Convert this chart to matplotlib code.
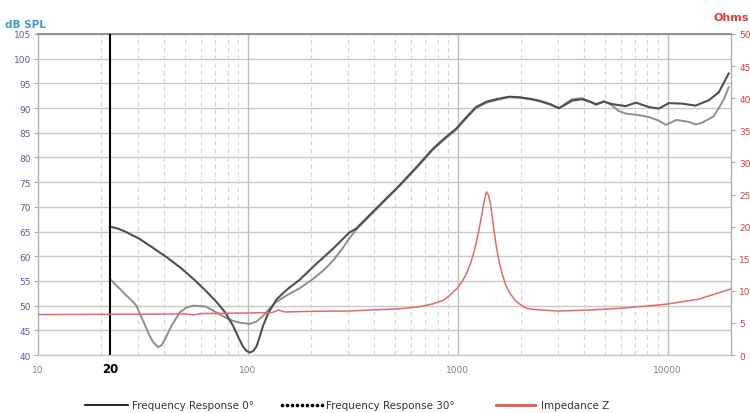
import matplotlib
matplotlib.use("Agg")
import matplotlib.pyplot as plt
from matplotlib.lines import Line2D
import numpy as np

# ---- measured data -------------------------------------------------------
freq_0deg = [22, 24, 26, 28, 30.5, 35, 41, 48, 55, 63, 71, 78, 85, 90, 94.5,
             98, 102, 106, 110, 114, 118, 125, 137, 155, 176, 211, 254, 304,
             328, 400, 526, 640, 758, 870, 980, 1100, 1220, 1370, 1520, 1750,
             1960, 2200, 2440, 2750, 3030, 3250, 3500, 3900, 4300, 4550, 4970,
             5440, 6300, 7050, 8130, 9070, 10100, 11700, 13550, 15700, 17500,
             19500]
spl_0deg = [66.0, 65.6, 65.0, 64.3, 63.5, 61.8, 59.8, 57.6, 55.4, 53.0, 50.7,
            48.6, 45.9, 43.6, 41.8, 40.9, 40.5, 40.8, 41.8, 43.8, 45.9, 48.5,
            51.3, 53.4, 55.2, 58.4, 61.5, 64.8, 65.6, 69.3, 74.3, 78.2, 81.7,
            84.0, 85.8, 88.2, 90.2, 91.3, 91.8, 92.3, 92.2, 91.9, 91.5, 90.8,
            90.0, 90.7, 91.5, 91.8, 91.2, 90.8, 91.3, 90.8, 90.4, 91.1, 90.2,
            89.9, 91.0, 90.9, 90.5, 91.6, 93.2, 97.0]

freq_30deg = [22, 24, 26.4, 28, 29.4, 31, 32.9, 34.2, 35.4, 37.3, 38.8, 40.3,
              43.2, 47.3, 51, 55, 63, 71, 78, 85, 93, 102, 110, 118, 126, 136,
              152, 176, 204, 230, 254, 280, 304, 328, 400, 526, 640, 758, 870,
              980, 1100, 1220, 1370, 1520, 1750, 1960, 2200, 2440, 2750, 3030,
              3250, 3500, 3900, 4300, 4550, 4970, 5440, 5850, 6300, 7200, 8130,
              9000, 9800, 11000, 12600, 13550, 14500, 16500, 17500, 18500,
              19500]
spl_30deg = [55.4, 53.8, 52.0, 51.0, 50.0, 47.8, 45.3, 43.7, 42.6, 41.6, 42.0,
             43.2, 45.9, 48.6, 49.6, 50.0, 49.8, 48.6, 47.6, 46.9, 46.5, 46.3,
             46.8, 47.9, 49.3, 50.7, 52.0, 53.5, 55.4, 57.2, 59.1, 61.4, 63.6,
             65.4, 69.1, 74.2, 78.0, 81.5, 83.8, 85.6, 88.0, 90.0, 91.1, 91.6,
             92.2, 92.1, 91.8, 91.4, 90.7, 89.9, 90.9, 91.8, 92.0, 91.3, 90.6,
             91.4, 90.5, 89.4, 88.9, 88.6, 88.2, 87.5, 86.6, 87.6, 87.2, 86.7,
             87.0, 88.3, 90.0, 91.8, 94.2]

freq_imp = [10, 30, 50, 55, 60, 80, 100, 130, 140, 150, 200, 300, 526, 650,
            758, 850, 908, 1000, 1050, 1100, 1150, 1200, 1250, 1300, 1335,
            1368, 1400, 1435, 1465, 1490, 1530, 1574, 1630, 1694, 1780, 1886,
            2000, 2110, 2300, 2530, 3000, 4200, 6100, 9760, 14050, 20000]
ohm_imp = [6.3, 6.35, 6.4, 6.25, 6.45, 6.5, 6.55, 6.6, 7.0, 6.7, 6.8, 6.85,
           7.2, 7.5, 7.95, 8.5, 9.2, 10.5, 11.5, 12.7, 14.3, 16.3, 18.9, 21.8,
           24.0, 25.4, 24.9, 23.3, 21.0, 19.1, 16.6, 14.5, 12.5, 10.8, 9.5,
           8.4, 7.8, 7.3, 7.1, 7.0, 6.85, 7.0, 7.3, 7.9, 8.7, 10.3]

spl_ticks = list(range(40, 106, 5))
ohm_ticks = list(range(0, 51, 5))
freq_ticks = [10, 100, 1000, 10000]
freq_tick_labels = ["10", "100", "1000", "10000"]
low_limit_freq = 22
low_limit_label = "20"

legend_labels = ["Frequency Response 0°", "Frequency Response 30°", "Impedance Z"]

# ---- styling -------------------------------------------------------------
C_0DEG = "#4f4f4f"
C_30DEG = "#8e8e8e"
C_IMP = "#e36a6a"
C_SPL_TXT = "#5c5c9e"
C_OHM_TXT = "#e23c3c"

fig = plt.figure(figsize=(7.5, 4.14), dpi=100)
ax = fig.add_axes([38 / 750, 1 - 356 / 414, 693 / 750, 321 / 414])

ax.set_xscale("log")
ax.set_xlim(10, 20000)
ax.set_ylim(40, 105)

# grid
for v in spl_ticks:
    ax.axhline(v, color="#c8c8c8", lw=1.0, zorder=1)
minor = [m * d for d in (10, 100, 1000, 10000) for m in range(2, 10) if m * d < 20000]
for v in minor:
    ax.axvline(v, color="#d6d6d6", lw=0.8, ls=(0, (4, 3)), zorder=1)
for v in freq_ticks[1:]:
    ax.axvline(v, color="#bcbcbc", lw=1.0, zorder=1)

ax.set_yticks(spl_ticks)
ax.set_yticklabels([str(v) for v in spl_ticks], color=C_SPL_TXT, fontsize=6.5)
ax.tick_params(axis="y", length=3, color="#aaaaaa", pad=2)
ax.set_xticks(freq_ticks)
ax.set_xticklabels(freq_tick_labels, color="#808080", fontsize=6.5)
ax.set_xticks([], minor=True)
ax.tick_params(axis="x", length=0, pad=7)

for side, col, lw in (("top", "#8a8a8a", 1.3), ("left", "#b0b0b0", 1.0),
                      ("bottom", "#cccccc", 1.0), ("right", "#b0b0b0", 1.0)):
    ax.spines[side].set_color(col)
    ax.spines[side].set_linewidth(lw)

# impedance on secondary axis
ax2 = ax.twinx()
ax2.set_ylim(0, 50)
ax2.set_yticks(ohm_ticks)
ax2.set_yticklabels([str(v) for v in ohm_ticks], color=C_OHM_TXT, fontsize=6.5)
ax2.tick_params(axis="y", length=3, color="#aaaaaa", pad=3)
for s in ax2.spines.values():
    s.set_visible(False)
ax2.plot(freq_imp, ohm_imp, color=C_IMP, lw=1.1, zorder=3)

# SPL curves
ax2.set_zorder(ax.get_zorder() + 1)
ax2.patch.set_visible(False)
ax.plot(freq_30deg, spl_30deg, color=C_30DEG, lw=1.4, zorder=3)
ax.plot(freq_0deg, spl_0deg, color=C_0DEG, lw=1.5, zorder=4)

# lower frequency limit marker
ax.axvline(low_limit_freq, color="black", lw=1.5, zorder=5)
ax.text(low_limit_freq, 40 - 1.4, low_limit_label, ha="center", va="top",
        fontsize=8.5, fontweight="bold", color="black")

# axis titles
fig.text(5 / 750, 1 - 25 / 414, "dB SPL", color="#3a9dc6", fontsize=7.5,
         fontweight="bold", ha="left", va="center")
fig.text(749 / 750, 1 - 18 / 414, "Ohms", color=C_OHM_TXT, fontsize=8,
         fontweight="bold", ha="right", va="center")

# legend row
ly = 1 - 406 / 414
fig.add_artist(Line2D([85 / 750, 128 / 750], [ly, ly], color="black", lw=1.2))
dots_x = np.linspace(282, 322, 9) / 750
fig.add_artist(Line2D(dots_x, [ly] * len(dots_x), color="black", lw=0,
                      marker="o", markersize=1.6, linestyle="none"))
fig.add_artist(Line2D([496 / 750, 535 / 750], [ly, ly], color="#e85555", lw=2))
for x0, lab in zip((132, 326, 541), legend_labels):
    fig.text(x0 / 750, ly, lab, fontsize=7.5, color="#333333", ha="left",
             va="center", family=["Liberation Sans Narrow", "DejaVu Sans"])

fig.savefig("out.png", dpi=100)
